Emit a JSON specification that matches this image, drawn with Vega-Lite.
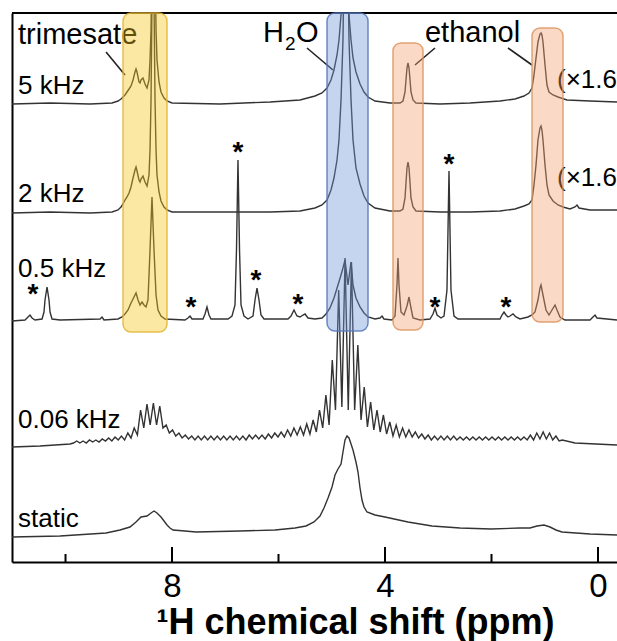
{
  "$schema": "https://vega.github.io/schema/vega-lite/v6.json",
  "width": 605,
  "height": 549,
  "autosize": {"type": "none"},
  "padding": {"left": 12, "top": 13, "right": 0, "bottom": 79},
  "background": "white",
  "config": {"view": {"stroke": null}, "font": "Liberation Sans"},
  "resolve": {"axis": {"x": "independent", "y": "independent"}},
  "datasets": {
    "spec": [
      {"s":"5","ppm":11.005,"i":458},{"s":"5","ppm":10.291,"i":459},{"s":"5","ppm":9.540,"i":458},{"s":"5","ppm":9.127,"i":459},{"s":"5","ppm":9.014,"i":461},{"s":"5","ppm":8.958,"i":463},{"s":"5","ppm":8.920,"i":465},{"s":"5","ppm":8.883,"i":467},{"s":"5","ppm":8.845,"i":470},{"s":"5","ppm":8.807,"i":473},{"s":"5","ppm":8.770,"i":476},{"s":"5","ppm":8.732,"i":482},{"s":"5","ppm":8.695,"i":490},{"s":"5","ppm":8.676,"i":493},{"s":"5","ppm":8.657,"i":490},{"s":"5","ppm":8.620,"i":480},{"s":"5","ppm":8.601,"i":479},{"s":"5","ppm":8.582,"i":482},{"s":"5","ppm":8.545,"i":484},{"s":"5","ppm":8.507,"i":478},{"s":"5","ppm":8.469,"i":474},{"s":"5","ppm":8.432,"i":482},{"s":"5","ppm":8.413,"i":502},{"s":"5","ppm":8.394,"i":532},{"s":"5","ppm":8.376,"i":612},{"s":"5","ppm":8.347,"i":762},{"s":"5","ppm":8.319,"i":612},{"s":"5","ppm":8.300,"i":532},{"s":"5","ppm":8.282,"i":502},{"s":"5","ppm":8.244,"i":480},{"s":"5","ppm":8.207,"i":470},{"s":"5","ppm":8.150,"i":464},{"s":"5","ppm":8.094,"i":461},{"s":"5","ppm":8.000,"i":459},{"s":"5","ppm":7.099,"i":458},{"s":"5","ppm":6.160,"i":460},{"s":"5","ppm":5.596,"i":462},{"s":"5","ppm":5.315,"i":466},{"s":"5","ppm":5.183,"i":469},{"s":"5","ppm":5.089,"i":474},{"s":"5","ppm":5.014,"i":482},{"s":"5","ppm":4.958,"i":492},{"s":"5","ppm":4.901,"i":507},{"s":"5","ppm":4.864,"i":522},{"s":"5","ppm":4.826,"i":547},{"s":"5","ppm":4.789,"i":622},{"s":"5","ppm":4.751,"i":762},{"s":"5","ppm":4.714,"i":622},{"s":"5","ppm":4.676,"i":547},{"s":"5","ppm":4.638,"i":522},{"s":"5","ppm":4.601,"i":504},{"s":"5","ppm":4.545,"i":490},{"s":"5","ppm":4.469,"i":478},{"s":"5","ppm":4.394,"i":470},{"s":"5","ppm":4.319,"i":465},{"s":"5","ppm":4.188,"i":461},{"s":"5","ppm":3.906,"i":459},{"s":"5","ppm":3.718,"i":459},{"s":"5","ppm":3.662,"i":461},{"s":"5","ppm":3.624,"i":470},{"s":"5","ppm":3.606,"i":482},{"s":"5","ppm":3.587,"i":494},{"s":"5","ppm":3.568,"i":499},{"s":"5","ppm":3.549,"i":494},{"s":"5","ppm":3.530,"i":482},{"s":"5","ppm":3.512,"i":470},{"s":"5","ppm":3.474,"i":462},{"s":"5","ppm":3.418,"i":459},{"s":"5","ppm":2.967,"i":458},{"s":"5","ppm":2.404,"i":459},{"s":"5","ppm":1.840,"i":461},{"s":"5","ppm":1.559,"i":463},{"s":"5","ppm":1.390,"i":466},{"s":"5","ppm":1.296,"i":469},{"s":"5","ppm":1.239,"i":474},{"s":"5","ppm":1.202,"i":487},{"s":"5","ppm":1.164,"i":504},{"s":"5","ppm":1.127,"i":520},{"s":"5","ppm":1.089,"i":528},{"s":"5","ppm":1.070,"i":529},{"s":"5","ppm":1.052,"i":527},{"s":"5","ppm":1.033,"i":520},{"s":"5","ppm":0.995,"i":497},{"s":"5","ppm":0.958,"i":477},{"s":"5","ppm":0.920,"i":470},{"s":"5","ppm":0.845,"i":467},{"s":"5","ppm":0.751,"i":465},{"s":"5","ppm":0.582,"i":462},{"s":"5","ppm":0.150,"i":461},{"s":"5","ppm":-0.357,"i":460},

      {"s":"2","ppm":11.005,"i":349},{"s":"2","ppm":10.291,"i":350},{"s":"2","ppm":9.540,"i":349},{"s":"2","ppm":9.127,"i":350},{"s":"2","ppm":9.014,"i":352},{"s":"2","ppm":8.958,"i":355},{"s":"2","ppm":8.920,"i":358},{"s":"2","ppm":8.883,"i":362},{"s":"2","ppm":8.845,"i":365},{"s":"2","ppm":8.807,"i":369},{"s":"2","ppm":8.770,"i":375},{"s":"2","ppm":8.732,"i":384},{"s":"2","ppm":8.695,"i":392},{"s":"2","ppm":8.676,"i":395},{"s":"2","ppm":8.657,"i":391},{"s":"2","ppm":8.620,"i":382},{"s":"2","ppm":8.601,"i":380},{"s":"2","ppm":8.582,"i":383},{"s":"2","ppm":8.545,"i":386},{"s":"2","ppm":8.507,"i":380},{"s":"2","ppm":8.469,"i":376},{"s":"2","ppm":8.432,"i":387},{"s":"2","ppm":8.413,"i":412},{"s":"2","ppm":8.394,"i":462},{"s":"2","ppm":8.376,"i":562},{"s":"2","ppm":8.357,"i":762},{"s":"2","ppm":8.338,"i":562},{"s":"2","ppm":8.319,"i":462},{"s":"2","ppm":8.300,"i":412},{"s":"2","ppm":8.282,"i":387},{"s":"2","ppm":8.244,"i":370},{"s":"2","ppm":8.207,"i":361},{"s":"2","ppm":8.150,"i":355},{"s":"2","ppm":8.094,"i":352},{"s":"2","ppm":8.000,"i":350},{"s":"2","ppm":7.099,"i":350},{"s":"2","ppm":6.160,"i":350},{"s":"2","ppm":5.596,"i":351},{"s":"2","ppm":5.315,"i":354},{"s":"2","ppm":5.183,"i":357},{"s":"2","ppm":5.089,"i":362},{"s":"2","ppm":5.014,"i":372},{"s":"2","ppm":4.958,"i":384},{"s":"2","ppm":4.901,"i":402},{"s":"2","ppm":4.864,"i":422},{"s":"2","ppm":4.826,"i":462},{"s":"2","ppm":4.789,"i":522},{"s":"2","ppm":4.732,"i":762},{"s":"2","ppm":4.676,"i":522},{"s":"2","ppm":4.638,"i":462},{"s":"2","ppm":4.601,"i":422},{"s":"2","ppm":4.545,"i":394},{"s":"2","ppm":4.469,"i":378},{"s":"2","ppm":4.394,"i":366},{"s":"2","ppm":4.319,"i":359},{"s":"2","ppm":4.188,"i":354},{"s":"2","ppm":3.906,"i":351},{"s":"2","ppm":3.718,"i":351},{"s":"2","ppm":3.662,"i":353},{"s":"2","ppm":3.624,"i":364},{"s":"2","ppm":3.606,"i":379},{"s":"2","ppm":3.587,"i":394},{"s":"2","ppm":3.568,"i":400},{"s":"2","ppm":3.549,"i":394},{"s":"2","ppm":3.530,"i":379},{"s":"2","ppm":3.512,"i":364},{"s":"2","ppm":3.474,"i":355},{"s":"2","ppm":3.418,"i":351},{"s":"2","ppm":2.967,"i":350},{"s":"2","ppm":2.404,"i":350},{"s":"2","ppm":1.840,"i":351},{"s":"2","ppm":1.559,"i":353},{"s":"2","ppm":1.390,"i":356},{"s":"2","ppm":1.296,"i":358},{"s":"2","ppm":1.239,"i":362},{"s":"2","ppm":1.202,"i":377},{"s":"2","ppm":1.164,"i":397},{"s":"2","ppm":1.127,"i":422},{"s":"2","ppm":1.089,"i":434},{"s":"2","ppm":1.070,"i":436},{"s":"2","ppm":1.052,"i":432},{"s":"2","ppm":1.033,"i":422},{"s":"2","ppm":0.995,"i":397},{"s":"2","ppm":0.958,"i":377},{"s":"2","ppm":0.920,"i":367},{"s":"2","ppm":0.845,"i":361},{"s":"2","ppm":0.751,"i":357},{"s":"2","ppm":0.657,"i":355},{"s":"2","ppm":0.526,"i":353},{"s":"2","ppm":0.432,"i":355},{"s":"2","ppm":0.394,"i":357},{"s":"2","ppm":0.357,"i":354},{"s":"2","ppm":0.150,"i":352},{"s":"2","ppm":-0.357,"i":352},

      {"s":"0.5","ppm":11.005,"i":241},{"s":"0.5","ppm":10.760,"i":242},{"s":"0.5","ppm":10.704,"i":245},{"s":"0.5","ppm":10.667,"i":247},{"s":"0.5","ppm":10.629,"i":244},{"s":"0.5","ppm":10.573,"i":242},{"s":"0.5","ppm":10.441,"i":243},{"s":"0.5","ppm":10.404,"i":250},{"s":"0.5","ppm":10.385,"i":262},{"s":"0.5","ppm":10.347,"i":275},{"s":"0.5","ppm":10.310,"i":262},{"s":"0.5","ppm":10.291,"i":250},{"s":"0.5","ppm":10.253,"i":243},{"s":"0.5","ppm":10.103,"i":242},{"s":"0.5","ppm":9.352,"i":243},{"s":"0.5","ppm":9.314,"i":245},{"s":"0.5","ppm":9.277,"i":242},{"s":"0.5","ppm":9.014,"i":243},{"s":"0.5","ppm":8.939,"i":245},{"s":"0.5","ppm":8.883,"i":248},{"s":"0.5","ppm":8.826,"i":252},{"s":"0.5","ppm":8.770,"i":259},{"s":"0.5","ppm":8.714,"i":265},{"s":"0.5","ppm":8.676,"i":269},{"s":"0.5","ppm":8.638,"i":262},{"s":"0.5","ppm":8.601,"i":257},{"s":"0.5","ppm":8.563,"i":260},{"s":"0.5","ppm":8.526,"i":257},{"s":"0.5","ppm":8.488,"i":255},{"s":"0.5","ppm":8.451,"i":262},{"s":"0.5","ppm":8.413,"i":312},{"s":"0.5","ppm":8.376,"i":365},{"s":"0.5","ppm":8.338,"i":312},{"s":"0.5","ppm":8.300,"i":267},{"s":"0.5","ppm":8.263,"i":252},{"s":"0.5","ppm":8.207,"i":246},{"s":"0.5","ppm":8.131,"i":243},{"s":"0.5","ppm":7.756,"i":242},{"s":"0.5","ppm":7.700,"i":244},{"s":"0.5","ppm":7.662,"i":246},{"s":"0.5","ppm":7.624,"i":243},{"s":"0.5","ppm":7.418,"i":243},{"s":"0.5","ppm":7.380,"i":248},{"s":"0.5","ppm":7.343,"i":255},{"s":"0.5","ppm":7.305,"i":247},{"s":"0.5","ppm":7.268,"i":243},{"s":"0.5","ppm":6.948,"i":243},{"s":"0.5","ppm":6.873,"i":246},{"s":"0.5","ppm":6.817,"i":257},{"s":"0.5","ppm":6.789,"i":312},{"s":"0.5","ppm":6.761,"i":402},{"s":"0.5","ppm":6.732,"i":312},{"s":"0.5","ppm":6.704,"i":257},{"s":"0.5","ppm":6.648,"i":246},{"s":"0.5","ppm":6.573,"i":243},{"s":"0.5","ppm":6.479,"i":246},{"s":"0.5","ppm":6.441,"i":262},{"s":"0.5","ppm":6.404,"i":274},{"s":"0.5","ppm":6.366,"i":262},{"s":"0.5","ppm":6.329,"i":247},{"s":"0.5","ppm":6.272,"i":243},{"s":"0.5","ppm":5.822,"i":243},{"s":"0.5","ppm":5.765,"i":246},{"s":"0.5","ppm":5.709,"i":252},{"s":"0.5","ppm":5.653,"i":246},{"s":"0.5","ppm":5.596,"i":245},{"s":"0.5","ppm":5.540,"i":247},{"s":"0.5","ppm":5.502,"i":248},{"s":"0.5","ppm":5.446,"i":244},{"s":"0.5","ppm":5.315,"i":243},{"s":"0.5","ppm":5.183,"i":244},{"s":"0.5","ppm":5.108,"i":248},{"s":"0.5","ppm":5.033,"i":254},{"s":"0.5","ppm":4.958,"i":264},{"s":"0.5","ppm":4.883,"i":277},{"s":"0.5","ppm":4.826,"i":287},{"s":"0.5","ppm":4.789,"i":294},{"s":"0.5","ppm":4.751,"i":302},{"s":"0.5","ppm":4.695,"i":277},{"s":"0.5","ppm":4.638,"i":300},{"s":"0.5","ppm":4.601,"i":277},{"s":"0.5","ppm":4.545,"i":264},{"s":"0.5","ppm":4.469,"i":255},{"s":"0.5","ppm":4.394,"i":249},{"s":"0.5","ppm":4.319,"i":245},{"s":"0.5","ppm":4.188,"i":243},{"s":"0.5","ppm":4.094,"i":244},{"s":"0.5","ppm":4.056,"i":246},{"s":"0.5","ppm":4.019,"i":243},{"s":"0.5","ppm":3.869,"i":242},{"s":"0.5","ppm":3.812,"i":246},{"s":"0.5","ppm":3.775,"i":277},{"s":"0.5","ppm":3.756,"i":304},{"s":"0.5","ppm":3.737,"i":277},{"s":"0.5","ppm":3.700,"i":250},{"s":"0.5","ppm":3.643,"i":247},{"s":"0.5","ppm":3.587,"i":256},{"s":"0.5","ppm":3.549,"i":265},{"s":"0.5","ppm":3.512,"i":254},{"s":"0.5","ppm":3.474,"i":244},{"s":"0.5","ppm":3.343,"i":242},{"s":"0.5","ppm":3.155,"i":243},{"s":"0.5","ppm":3.099,"i":248},{"s":"0.5","ppm":3.061,"i":254},{"s":"0.5","ppm":3.023,"i":247},{"s":"0.5","ppm":2.948,"i":244},{"s":"0.5","ppm":2.892,"i":246},{"s":"0.5","ppm":2.836,"i":272},{"s":"0.5","ppm":2.798,"i":391},{"s":"0.5","ppm":2.761,"i":272},{"s":"0.5","ppm":2.704,"i":246},{"s":"0.5","ppm":2.629,"i":243},{"s":"0.5","ppm":1.840,"i":243},{"s":"0.5","ppm":1.803,"i":247},{"s":"0.5","ppm":1.765,"i":250},{"s":"0.5","ppm":1.728,"i":247},{"s":"0.5","ppm":1.690,"i":245},{"s":"0.5","ppm":1.653,"i":246},{"s":"0.5","ppm":1.596,"i":248},{"s":"0.5","ppm":1.540,"i":245},{"s":"0.5","ppm":1.465,"i":243},{"s":"0.5","ppm":1.315,"i":245},{"s":"0.5","ppm":1.239,"i":247},{"s":"0.5","ppm":1.183,"i":250},{"s":"0.5","ppm":1.127,"i":262},{"s":"0.5","ppm":1.089,"i":274},{"s":"0.5","ppm":1.070,"i":277},{"s":"0.5","ppm":1.033,"i":267},{"s":"0.5","ppm":0.977,"i":252},{"s":"0.5","ppm":0.920,"i":247},{"s":"0.5","ppm":0.864,"i":252},{"s":"0.5","ppm":0.807,"i":257},{"s":"0.5","ppm":0.770,"i":252},{"s":"0.5","ppm":0.714,"i":245},{"s":"0.5","ppm":0.620,"i":242},{"s":"0.5","ppm":0.150,"i":242},{"s":"0.5","ppm":0.094,"i":245},{"s":"0.5","ppm":0.056,"i":247},{"s":"0.5","ppm":0.019,"i":244},{"s":"0.5","ppm":-0.357,"i":242},

      {"s":"0.06","ppm":11.005,"i":115},{"s":"0.06","ppm":10.479,"i":116},{"s":"0.06","ppm":9.915,"i":118},{"s":"0.06","ppm":9.85,"i":119},{"s":"0.06","ppm":9.79,"i":121},{"s":"0.06","ppm":9.73,"i":119},{"s":"0.06","ppm":9.67,"i":121},{"s":"0.06","ppm":9.61,"i":119},{"s":"0.06","ppm":9.55,"i":122},{"s":"0.06","ppm":9.49,"i":120},{"s":"0.06","ppm":9.43,"i":122},{"s":"0.06","ppm":9.37,"i":120},{"s":"0.06","ppm":9.31,"i":123},{"s":"0.06","ppm":9.25,"i":121},{"s":"0.06","ppm":9.19,"i":124},{"s":"0.06","ppm":9.13,"i":121},{"s":"0.06","ppm":9.07,"i":125},{"s":"0.06","ppm":9.01,"i":122},{"s":"0.06","ppm":8.95,"i":126},{"s":"0.06","ppm":8.89,"i":122},{"s":"0.06","ppm":8.83,"i":129},{"s":"0.06","ppm":8.77,"i":124},{"s":"0.06","ppm":8.71,"i":134},{"s":"0.06","ppm":8.65,"i":127},{"s":"0.06","ppm":8.59,"i":152},{"s":"0.06","ppm":8.53,"i":134},{"s":"0.06","ppm":8.47,"i":158},{"s":"0.06","ppm":8.41,"i":137},{"s":"0.06","ppm":8.35,"i":159},{"s":"0.06","ppm":8.29,"i":137},{"s":"0.06","ppm":8.23,"i":156},{"s":"0.06","ppm":8.17,"i":134},{"s":"0.06","ppm":8.11,"i":137},{"s":"0.06","ppm":8.05,"i":129},{"s":"0.06","ppm":7.99,"i":132},{"s":"0.06","ppm":7.93,"i":126},{"s":"0.06","ppm":7.87,"i":129},{"s":"0.06","ppm":7.81,"i":124},{"s":"0.06","ppm":7.75,"i":127},{"s":"0.06","ppm":7.69,"i":123},{"s":"0.06","ppm":7.63,"i":126},{"s":"0.06","ppm":7.57,"i":122},{"s":"0.06","ppm":7.51,"i":126},{"s":"0.06","ppm":7.45,"i":122},{"s":"0.06","ppm":7.39,"i":126},{"s":"0.06","ppm":7.33,"i":122},{"s":"0.06","ppm":7.27,"i":126},{"s":"0.06","ppm":7.21,"i":122},{"s":"0.06","ppm":7.15,"i":126},{"s":"0.06","ppm":7.09,"i":122},{"s":"0.06","ppm":7.03,"i":126},{"s":"0.06","ppm":6.97,"i":122},{"s":"0.06","ppm":6.91,"i":126},{"s":"0.06","ppm":6.85,"i":122},{"s":"0.06","ppm":6.79,"i":126},{"s":"0.06","ppm":6.73,"i":122},{"s":"0.06","ppm":6.67,"i":126},{"s":"0.06","ppm":6.61,"i":122},{"s":"0.06","ppm":6.55,"i":127},{"s":"0.06","ppm":6.49,"i":123},{"s":"0.06","ppm":6.43,"i":127},{"s":"0.06","ppm":6.37,"i":123},{"s":"0.06","ppm":6.31,"i":127},{"s":"0.06","ppm":6.25,"i":123},{"s":"0.06","ppm":6.19,"i":128},{"s":"0.06","ppm":6.13,"i":124},{"s":"0.06","ppm":6.07,"i":129},{"s":"0.06","ppm":6.01,"i":125},{"s":"0.06","ppm":5.95,"i":130},{"s":"0.06","ppm":5.89,"i":125},{"s":"0.06","ppm":5.83,"i":132},{"s":"0.06","ppm":5.77,"i":126},{"s":"0.06","ppm":5.71,"i":134},{"s":"0.06","ppm":5.65,"i":127},{"s":"0.06","ppm":5.59,"i":135},{"s":"0.06","ppm":5.53,"i":127},{"s":"0.06","ppm":5.47,"i":138},{"s":"0.06","ppm":5.41,"i":128},{"s":"0.06","ppm":5.35,"i":142},{"s":"0.06","ppm":5.29,"i":130},{"s":"0.06","ppm":5.23,"i":152},{"s":"0.06","ppm":5.17,"i":134},{"s":"0.06","ppm":5.11,"i":167},{"s":"0.06","ppm":5.05,"i":137},{"s":"0.06","ppm":4.99,"i":202},{"s":"0.06","ppm":4.93,"i":152},{"s":"0.06","ppm":4.87,"i":272},{"s":"0.06","ppm":4.81,"i":155},{"s":"0.06","ppm":4.75,"i":304},{"s":"0.06","ppm":4.69,"i":152},{"s":"0.06","ppm":4.63,"i":300},{"s":"0.06","ppm":4.57,"i":152},{"s":"0.06","ppm":4.51,"i":217},{"s":"0.06","ppm":4.45,"i":142},{"s":"0.06","ppm":4.39,"i":175},{"s":"0.06","ppm":4.33,"i":135},{"s":"0.06","ppm":4.27,"i":160},{"s":"0.06","ppm":4.21,"i":132},{"s":"0.06","ppm":4.15,"i":152},{"s":"0.06","ppm":4.09,"i":130},{"s":"0.06","ppm":4.03,"i":147},{"s":"0.06","ppm":3.97,"i":128},{"s":"0.06","ppm":3.91,"i":140},{"s":"0.06","ppm":3.85,"i":126},{"s":"0.06","ppm":3.79,"i":137},{"s":"0.06","ppm":3.73,"i":125},{"s":"0.06","ppm":3.67,"i":134},{"s":"0.06","ppm":3.61,"i":125},{"s":"0.06","ppm":3.55,"i":132},{"s":"0.06","ppm":3.49,"i":125},{"s":"0.06","ppm":3.43,"i":130},{"s":"0.06","ppm":3.37,"i":124},{"s":"0.06","ppm":3.31,"i":128},{"s":"0.06","ppm":3.25,"i":123},{"s":"0.06","ppm":3.19,"i":127},{"s":"0.06","ppm":3.13,"i":122},{"s":"0.06","ppm":3.07,"i":126},{"s":"0.06","ppm":3.01,"i":122},{"s":"0.06","ppm":2.95,"i":126},{"s":"0.06","ppm":2.89,"i":122},{"s":"0.06","ppm":2.83,"i":126},{"s":"0.06","ppm":2.77,"i":122},{"s":"0.06","ppm":2.71,"i":126},{"s":"0.06","ppm":2.65,"i":122},{"s":"0.06","ppm":2.59,"i":125},{"s":"0.06","ppm":2.53,"i":122},{"s":"0.06","ppm":2.47,"i":125},{"s":"0.06","ppm":2.41,"i":122},{"s":"0.06","ppm":2.35,"i":125},{"s":"0.06","ppm":2.29,"i":122},{"s":"0.06","ppm":2.23,"i":125},{"s":"0.06","ppm":2.17,"i":122},{"s":"0.06","ppm":2.11,"i":125},{"s":"0.06","ppm":2.05,"i":122},{"s":"0.06","ppm":1.99,"i":125},{"s":"0.06","ppm":1.93,"i":122},{"s":"0.06","ppm":1.87,"i":125},{"s":"0.06","ppm":1.81,"i":122},{"s":"0.06","ppm":1.75,"i":125},{"s":"0.06","ppm":1.69,"i":122},{"s":"0.06","ppm":1.63,"i":125},{"s":"0.06","ppm":1.57,"i":122},{"s":"0.06","ppm":1.51,"i":125},{"s":"0.06","ppm":1.45,"i":122},{"s":"0.06","ppm":1.39,"i":125},{"s":"0.06","ppm":1.33,"i":122},{"s":"0.06","ppm":1.27,"i":127},{"s":"0.06","ppm":1.21,"i":122},{"s":"0.06","ppm":1.15,"i":129},{"s":"0.06","ppm":1.09,"i":123},{"s":"0.06","ppm":1.03,"i":130},{"s":"0.06","ppm":0.97,"i":123},{"s":"0.06","ppm":0.91,"i":129},{"s":"0.06","ppm":0.85,"i":122},{"s":"0.06","ppm":0.79,"i":126},{"s":"0.06","ppm":0.73,"i":121},{"s":"0.06","ppm":0.67,"i":122},{"s":"0.06","ppm":0.432,"i":119},{"s":"0.06","ppm":-0.357,"i":117},

      {"s":"static","ppm":11.005,"i":25},{"s":"static","ppm":10.103,"i":26},{"s":"static","ppm":9.239,"i":29},{"s":"static","ppm":8.977,"i":32},{"s":"static","ppm":8.789,"i":35},{"s":"static","ppm":8.676,"i":40},{"s":"static","ppm":8.582,"i":45},{"s":"static","ppm":8.469,"i":46},{"s":"static","ppm":8.394,"i":49},{"s":"static","ppm":8.338,"i":51},{"s":"static","ppm":8.282,"i":49},{"s":"static","ppm":8.207,"i":45},{"s":"static","ppm":8.150,"i":41},{"s":"static","ppm":8.094,"i":37},{"s":"static","ppm":8.038,"i":34},{"s":"static","ppm":7.981,"i":32},{"s":"static","ppm":7.756,"i":31},{"s":"static","ppm":7.549,"i":30},{"s":"static","ppm":6.723,"i":31},{"s":"static","ppm":6.066,"i":32},{"s":"static","ppm":5.690,"i":34},{"s":"static","ppm":5.484,"i":36},{"s":"static","ppm":5.333,"i":40},{"s":"static","ppm":5.221,"i":46},{"s":"static","ppm":5.146,"i":54},{"s":"static","ppm":5.070,"i":64},{"s":"static","ppm":4.995,"i":75},{"s":"static","ppm":4.939,"i":87},{"s":"static","ppm":4.883,"i":93},{"s":"static","ppm":4.826,"i":98},{"s":"static","ppm":4.789,"i":110},{"s":"static","ppm":4.751,"i":122},{"s":"static","ppm":4.714,"i":126},{"s":"static","ppm":4.676,"i":124},{"s":"static","ppm":4.638,"i":118},{"s":"static","ppm":4.601,"i":112},{"s":"static","ppm":4.545,"i":100},{"s":"static","ppm":4.507,"i":90},{"s":"static","ppm":4.469,"i":74},{"s":"static","ppm":4.432,"i":62},{"s":"static","ppm":4.394,"i":55},{"s":"static","ppm":4.338,"i":50},{"s":"static","ppm":4.188,"i":47},{"s":"static","ppm":4.000,"i":45},{"s":"static","ppm":3.568,"i":40},{"s":"static","ppm":3.117,"i":36},{"s":"static","ppm":2.592,"i":34},{"s":"static","ppm":2.009,"i":33},{"s":"static","ppm":1.465,"i":34},{"s":"static","ppm":1.277,"i":34},{"s":"static","ppm":1.146,"i":36},{"s":"static","ppm":1.014,"i":37},{"s":"static","ppm":0.901,"i":35},{"s":"static","ppm":0.789,"i":32},{"s":"static","ppm":0.676,"i":30},{"s":"static","ppm":0.150,"i":28},{"s":"static","ppm":-0.357,"i":27}
    ],
    "labels": [
      {"t":"5 kHz","ppm":10.892,"i":468},
      {"t":"2 kHz","ppm":10.892,"i":360},
      {"t":"0.5 kHz","ppm":10.892,"i":285},
      {"t":"0.06 kHz","ppm":10.892,"i":134},
      {"t":"static","ppm":10.892,"i":35},
      {"t":"(×1.6)","ppm":0.77,"i":474},
      {"t":"(×1.6)","ppm":0.77,"i":376}
    ],
    "notes": [
      {"t":"trimesate","ppm":10.892,"i":518},
      {"t":"H","ppm":6.291,"i":520},
      {"t":"O","ppm":5.671,"i":520},
      {"t":"ethanol","ppm":3.249,"i":520}
    ],
    "subs": [
      {"t":"2","ppm":5.878,"i":512}
    ],
    "leaders": [
      {"x1":9.239,"x2":8.883,"y1":510,"y2":487},
      {"x1":5.465,"x2":4.977,"y1":514,"y2":492},
      {"x1":3.061,"x2":3.437,"y1":514,"y2":497},
      {"x1":1.690,"x2":1.239,"y1":514,"y2":497}
    ],
    "stars": [
      {"ppm":10.610,"i":275},{"ppm":7.643,"i":262},{"ppm":6.761,"i":417},{"ppm":6.423,"i":289},
      {"ppm":5.634,"i":265},{"ppm":3.061,"i":262},{"ppm":2.798,"i":405},{"ppm":1.728,"i":262}
    ],
    "boxes": [
      {"k":"trimesate","x1":8.920,"x2":8.094,"y1":230,"y2":549},
      {"k":"water","x1":5.089,"x2":4.319,"y1":231,"y2":549},
      {"k":"ethanol","x1":3.850,"x2":3.286,"y1":232,"y2":519},
      {"k":"ethanol","x1":1.239,"x2":0.657,"y1":240,"y2":534}
    ],
    "major": [{"t":8},{"t":4},{"t":0}],
    "minor": [{"t":10},{"t":6},{"t":2}]
  },
  "layer": [
    {
      "data": {"name": "spec"},
      "mark": {"type": "line", "clip": true, "color": "#333333", "strokeWidth": 1.4},
      "encoding": {
        "x": {
          "field": "ppm", "type": "quantitative",
          "scale": {"domain": [-0.357, 11.005], "reverse": true, "nice": false, "zero": false},
          "axis": {
            "orient": "bottom", "values": [8, 4, 0], "ticks": false, "tickSize": 0, "grid": false,
            "domain": true, "domainColor": "black", "domainWidth": 2,
            "labelFont": "Liberation Sans", "labelFontSize": 33, "labelColor": "black",
            "labelPadding": 34, "labelBaseline": "alphabetic", "labelFlush": false,
            "title": "¹H chemical shift (ppm)", "titleFont": "Liberation Sans", "titleFontSize": 36,
            "titleFontWeight": "bold", "titleColor": "black", "titleX": 343, "titleY": 71,
            "titleAlign": "center", "titleBaseline": "alphabetic"
          }
        },
        "y": {
          "field": "i", "type": "quantitative",
          "scale": {"domain": [0, 549], "nice": false, "zero": false},
          "axis": {"orient": "left", "domain": true, "domainColor": "black", "domainWidth": 2, "ticks": false, "labels": false, "grid": false, "title": null}
        },
        "detail": {"field": "s"}
      }
    },
    {
      "data": {"name": "major"},
      "mark": {"type": "rule", "color": "black", "strokeWidth": 2},
      "encoding": {
        "x": {"field": "t", "type": "quantitative", "axis": null},
        "y": {"datum": 0, "type": "quantitative", "axis": null},
        "y2": {"datum": 15}
      }
    },
    {
      "data": {"name": "minor"},
      "mark": {"type": "rule", "color": "black", "strokeWidth": 2},
      "encoding": {
        "x": {"field": "t", "type": "quantitative", "axis": null},
        "y": {"datum": 0, "type": "quantitative", "axis": null},
        "y2": {"datum": 8}
      }
    },
    {
      "data": {"values": [{}]},
      "mark": {"type": "rule", "color": "black", "strokeWidth": 2},
      "encoding": {
        "y": {"datum": 549, "type": "quantitative", "axis": null}
      }
    },
    {
      "data": {"name": "labels"},
      "mark": {"type": "text", "align": "left", "baseline": "alphabetic", "fontSize": 26, "font": "Liberation Sans", "color": "black"},
      "encoding": {
        "x": {"field": "ppm", "type": "quantitative", "axis": null},
        "y": {"field": "i", "type": "quantitative", "axis": null},
        "text": {"field": "t"}
      }
    },
    {
      "data": {"name": "notes"},
      "mark": {"type": "text", "align": "left", "baseline": "alphabetic", "fontSize": 29, "font": "Liberation Sans", "color": "black"},
      "encoding": {
        "x": {"field": "ppm", "type": "quantitative", "axis": null},
        "y": {"field": "i", "type": "quantitative", "axis": null},
        "text": {"field": "t"}
      }
    },
    {
      "data": {"name": "subs"},
      "mark": {"type": "text", "align": "left", "baseline": "alphabetic", "fontSize": 19, "font": "Liberation Sans", "color": "black"},
      "encoding": {
        "x": {"field": "ppm", "type": "quantitative", "axis": null},
        "y": {"field": "i", "type": "quantitative", "axis": null},
        "text": {"field": "t"}
      }
    },
    {
      "data": {"name": "leaders"},
      "mark": {"type": "rule", "color": "#222222", "strokeWidth": 1.6},
      "encoding": {
        "x": {"field": "x1", "type": "quantitative", "axis": null},
        "x2": {"field": "x2"},
        "y": {"field": "y1", "type": "quantitative", "axis": null},
        "y2": {"field": "y2"}
      }
    },
    {
      "data": {"name": "stars"},
      "mark": {"type": "text", "text": "*", "align": "center", "baseline": "alphabetic", "dy": 16, "fontSize": 28, "fontWeight": "bold", "font": "Liberation Sans", "color": "black"},
      "encoding": {
        "x": {"field": "ppm", "type": "quantitative", "axis": null},
        "y": {"field": "i", "type": "quantitative", "axis": null}
      }
    },
    {
      "data": {"name": "boxes"},
      "mark": {"type": "rect", "cornerRadius": 8, "fillOpacity": 0.4, "strokeOpacity": 0.85, "strokeWidth": 1.5},
      "encoding": {
        "x": {"field": "x1", "type": "quantitative", "axis": null},
        "x2": {"field": "x2"},
        "y": {"field": "y1", "type": "quantitative", "axis": null},
        "y2": {"field": "y2"},
        "color": {"field": "k", "type": "nominal", "legend": null, "scale": {"domain": ["trimesate", "water", "ethanol"], "range": ["#F5C518", "#7096D6", "#F2A070"]}},
        "stroke": {"field": "k", "type": "nominal", "legend": null, "scale": {"domain": ["trimesate", "water", "ethanol"], "range": ["#E3B535", "#5577BB", "#DD9560"]}}
      }
    }
  ]
}
